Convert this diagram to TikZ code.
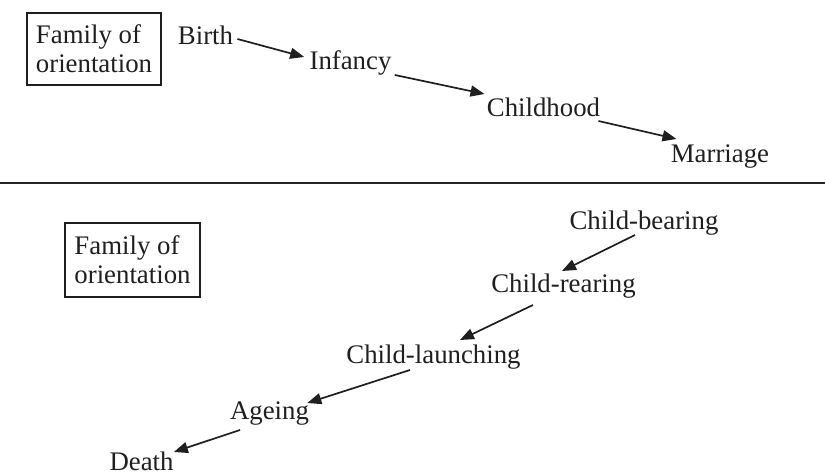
\documentclass[tikz,border=0pt]{standalone}
\usepackage{fontspec}
\setmainfont{Liberation Serif}
\usetikzlibrary{arrows.meta}
\begin{document}
\begin{tikzpicture}[x=0.5pt,y=-0.5pt,
  lbl/.style={anchor=base,inner sep=0pt,font=\fontsize{13.4}{14.5}\selectfont,text=black!88},
  famBox/.style={draw=black!88,line width=0.85pt,align=left,inner xsep=4pt,
    inner ysep=0pt,font=\fontsize{13.4}{14.5}\selectfont,text=black!88},
  arr/.style={line width=0.85pt,draw=black!88,-{Triangle[length=7pt,width=5.5pt]}}]
\useasboundingbox (0,0) rectangle (825,474);

% upper half: family of orientation
\node[famBox,minimum width=67pt,minimum height=36pt] (fam1) at (94,49) {Family of\\orientation};
\node[lbl] (birth)   at (205.5,45)  {Birth};
\node[lbl] (infancy) at (350.5,70)  {Infancy};
\node[lbl] (child)   at (543.5,117) {Childhood};
\node[lbl] (marr)    at (720,163)   {Marriage};

\draw[arr] ([shift={(4,-6)}]birth.base east)  -- ([shift={(-5,-13)}]infancy.base west);
\draw[arr] ([shift={(3,5)}]infancy.base east) -- ([shift={(-2,-23)}]child.base west);
\draw[arr] ([shift={(-2,4)}]child.base east)  -- ([shift={(6,-24)}]marr.base west);

% dividing rule
\coordinate (ruleL) at (0,183);
\coordinate (ruleR) at (825,183);
\draw[line width=1pt,draw=black!85] (ruleL) -- (ruleR);

% lower half: later life stages
\node[famBox,minimum width=67.5pt,minimum height=37pt] (fam2) at (132.5,260) {Family of\\orientation};
\node[lbl] (cbear)   at (644,230)   {Child-bearing};
\node[lbl] (crear)   at (563.5,293) {Child-rearing};
\node[lbl] (claunch) at (433.5,364) {Child-launching};
\node[lbl] (ageing)  at (269.5,420) {Ageing};
\node[lbl] (death)   at (141.5,470.5) {Death};

\draw[arr] ([shift={(-9,5)}]cbear.base)       -- ([shift={(-1.5,-22)}]crear.base);
\draw[arr] ([shift={(-30.5,12)}]crear.base)   -- ([shift={(26.5,-24)}]claunch.base);
\draw[arr] ([shift={(-23.5,6)}]claunch.base)  -- ([shift={(-2,-17)}]ageing.base east);
\draw[arr] ([shift={(-29.5,10)}]ageing.base)  -- ([shift={(0,-18.5)}]death.base east);
\end{tikzpicture}
\end{document}
